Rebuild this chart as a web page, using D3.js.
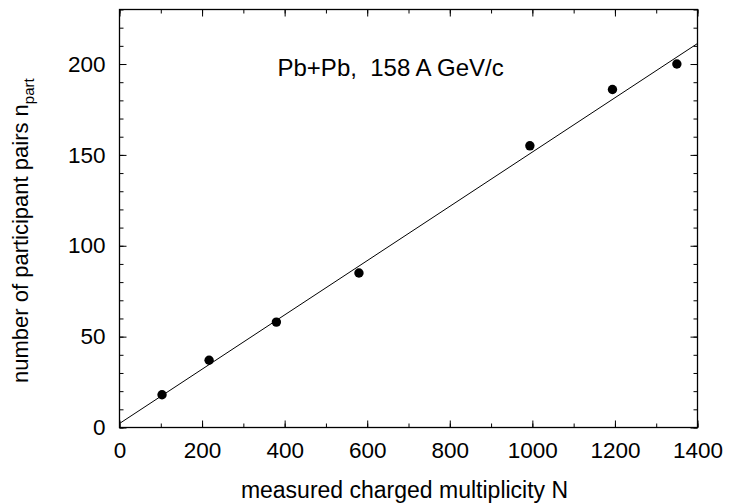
<!DOCTYPE html>
<meta charset="utf-8">
<script src="https://d3js.org/d3.v7.min.js"></script>
<style>
  body { margin: 0; background: #fff; }
  text { font-family: "Liberation Sans", Arial, sans-serif; fill: #000; }
</style>
<div id="chart"></div>
<script>
// data
var multiplicity = [103, 217, 380, 580, 994, 1194, 1350];
var nPart = [18, 37, 58, 85, 155, 186, 200];
// straight fit line, end points
var fitX = [0, 1400];
var fitY = [2.2, 211.3];
var xTicks = [0, 200, 400, 600, 800, 1000, 1200, 1400];
var yTicks = [0, 50, 100, 150, 200];

var W = 731, H = 504;
var margin = {top: 9.5, right: 33.5, bottom: 76.5, left: 119.5},
    width = W - margin.left - margin.right,
    height = H - margin.top - margin.bottom;

var svg = d3.select("#chart").append("svg")
    .attr("width", W).attr("height", H);
var g = svg.append("g")
    .attr("transform", "translate(" + margin.left + "," + margin.top + ")");

var x = d3.scaleLinear().domain([0, 1400]).range([0, width]);
var y = d3.scaleLinear().domain([0, 230]).range([height, 0]);

// minor ticks (inward, all four sides)
var xMinor = d3.range(0, 1401, 100), yMinor = d3.range(0, 231, 10);
function tickAxis(axis, tr, vals, len) {
  var a = g.append("g").attr("transform", tr)
    .call(axis.tickValues(vals).tickSize(len).tickFormat(""));
  a.select(".domain").remove();
  a.selectAll("line").attr("stroke", "#000").attr("stroke-width", 1);
}
tickAxis(d3.axisTop(x), "translate(0," + height + ")", xMinor, 4);
tickAxis(d3.axisBottom(x), "translate(0,0)", xMinor, 4);
tickAxis(d3.axisRight(y), "translate(0,0)", yMinor, 4);
tickAxis(d3.axisLeft(y), "translate(" + width + ",0)", yMinor, 4);
tickAxis(d3.axisTop(x), "translate(0," + height + ")", xTicks, 7);
tickAxis(d3.axisBottom(x), "translate(0,0)", xTicks, 7);
tickAxis(d3.axisRight(y), "translate(0,0)", yTicks, 7);
tickAxis(d3.axisLeft(y), "translate(" + width + ",0)", yTicks, 7);

// tick labels
var xl = g.append("g").attr("transform", "translate(0," + height + ")")
  .call(d3.axisBottom(x).tickValues(xTicks).tickSize(0).tickPadding(15).tickFormat(d3.format("d")));
xl.select(".domain").remove();
xl.selectAll("text").style("font-size", "22.5px").attr("dy", "0.71em");

var yl = g.append("g")
  .call(d3.axisLeft(y).tickValues(yTicks).tickSize(0).tickPadding(14).tickFormat(d3.format("d")));
yl.select(".domain").remove();
yl.selectAll("text").style("font-size", "22.5px");

// frame
g.append("rect").attr("width", width).attr("height", height)
  .attr("fill", "none").attr("stroke", "#000").attr("stroke-width", 1.3);

// fit line
g.append("path")
  .datum(fitX.map(function(d, i) { return [d, fitY[i]]; }))
  .attr("fill", "none").attr("stroke", "#000").attr("stroke-width", 1)
  .attr("d", d3.line().x(function(d) { return x(d[0]); }).y(function(d) { return y(d[1]); }));

// points
g.selectAll("circle").data(multiplicity).enter().append("circle")
  .attr("cx", function(d) { return x(d); })
  .attr("cy", function(d, i) { return y(nPart[i]); })
  .attr("r", 4.7).attr("fill", "#000");

// label in plot
g.append("text").attr("x", 158).attr("y", 66.5)
  .attr("xml:space", "preserve").style("white-space", "pre")
  .style("font-size", "24px").text("Pb+Pb,  158 A GeV/c");

// axis titles
svg.append("text").attr("x", margin.left + width / 2 - 4).attr("y", 498)
  .attr("text-anchor", "middle").style("font-size", "23px")
  .text("measured charged multiplicity N");

var yt = svg.append("text")
  .attr("transform", "translate(28,383) rotate(-90)")
  .style("font-size", "22px");
yt.append("tspan").text("number of participant pairs n");
yt.append("tspan").attr("dy", 6).style("font-size", "15px").text("part");
</script>
